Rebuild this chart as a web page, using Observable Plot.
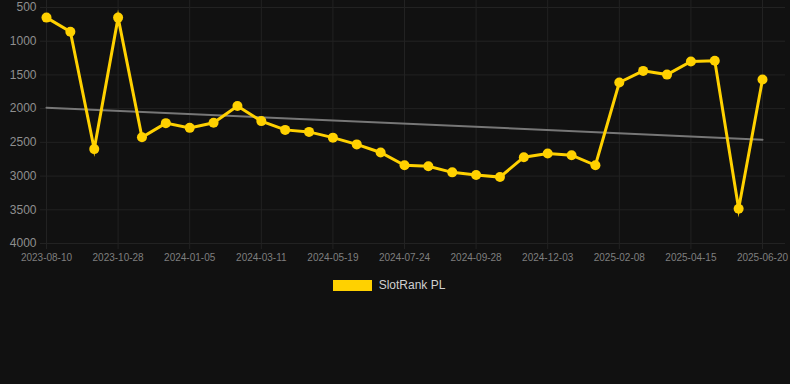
<!DOCTYPE html>
<html>
<head>
<meta charset="utf-8">
<script src="https://cdn.jsdelivr.net/npm/d3@7"></script>
<script src="https://cdn.jsdelivr.net/npm/@observablehq/plot@0.6"></script>
<style>
  html, body { margin: 0; padding: 0; background: #111111; }
  #chart { width: 790px; height: 384px; background: #111111; font-family: "Liberation Sans", Arial, sans-serif; }
  #legend { display: flex; justify-content: center; align-items: center; height: 30px; margin-top: 0px; padding-right: 12px; }
  #legend .sw { width: 39px; height: 11px; background: #FFD100; margin-right: 7px; }
  #legend .lb { color: #d0d0d0; font-size: 12px; }
</style>
</head>
<body>
<div id="chart"></div>
<script>
const dates = [
  "2023-08-10","2023-09-05","2023-10-01","2023-10-28","2023-11-20","2023-12-13",
  "2024-01-05","2024-01-27","2024-02-18","2024-03-11","2024-04-03","2024-04-26",
  "2024-05-19","2024-06-10","2024-07-02","2024-07-24","2024-08-15","2024-09-06",
  "2024-09-28","2024-10-20","2024-11-11","2024-12-03","2024-12-25","2025-01-16",
  "2025-02-08","2025-03-02","2025-03-24","2025-04-15","2025-05-07","2025-05-29",
  "2025-06-20"
];
const ranks = [
  650, 860, 2600, 650, 2425, 2215, 2285, 2210, 1960, 2185, 2315,
  2345, 2430, 2530, 2650, 2840, 2855, 2945, 2985, 3015, 2720, 2665,
  2690, 2840, 1612, 1440, 1495, 1300, 1290, 3485, 1568
];
const trendDates = ["2023-08-10", "2025-06-20"];
const trendValues = [1985, 2460];
const yTicks = [500, 1000, 1500, 2000, 2500, 3000, 3500, 4000];
const xTickLabels = dates.filter((d, i) => i % 3 === 0);
const seriesName = "SlotRank PL";

const data = dates.map((d, i) => ({date: d, rank: ranks[i]}));
const trend = trendDates.map((d, i) => ({date: d, rank: trendValues[i]}));

const YELLOW = "#FFD100";
const GRID = "#222222";

const plot = Plot.plot({
  width: 790,
  height: 270,
  marginLeft: 40,
  marginRight: 5,
  marginTop: 0,
  marginBottom: 27,
  style: { background: "#111111", fontFamily: "Liberation Sans, Arial, sans-serif" },
  x: { type: "point", domain: dates, range: [46, 762], padding: 0, round: false, label: null },
  y: { domain: [500, 4000], range: [7, 243], label: null },
  marks: [
    Plot.ruleY(yTicks, { y: d => d, stroke: GRID, strokeWidth: 1 }),
    Plot.ruleX(xTickLabels, { x: d => d, y1: 500 - 7 / (236 / 3500), y2: 4000, stroke: GRID, strokeWidth: 1 }),
    Plot.axisY({ ticks: yTicks, tickSize: 0, tickPadding: 4, fontSize: 12, color: "#8f8f8f", tickFormat: d => String(d), label: null }),
    Plot.axisX({ ticks: xTickLabels, tickSize: 6, stroke: GRID, tickPadding: 4, fontSize: 10, color: "#7f7f7f", tickFormat: d => d, label: null }),
    Plot.line(trend, { x: "date", y: "rank", stroke: "#777777", strokeWidth: 2 }),
    Plot.line(data, { x: "date", y: "rank", stroke: YELLOW, strokeWidth: 3, strokeLinejoin: "miter", strokeMiterlimit: 10 }),
    Plot.dot(data, { x: "date", y: "rank", r: 5, fill: YELLOW, stroke: "none" })
  ]
});

const chart = document.getElementById("chart");
chart.appendChild(plot);
const legend = document.createElement("div");
legend.id = "legend";
legend.innerHTML = '<div class="sw"></div><div class="lb"></div>';
legend.querySelector(".lb").textContent = seriesName;
chart.appendChild(legend);
</script>
</body>
</html>
